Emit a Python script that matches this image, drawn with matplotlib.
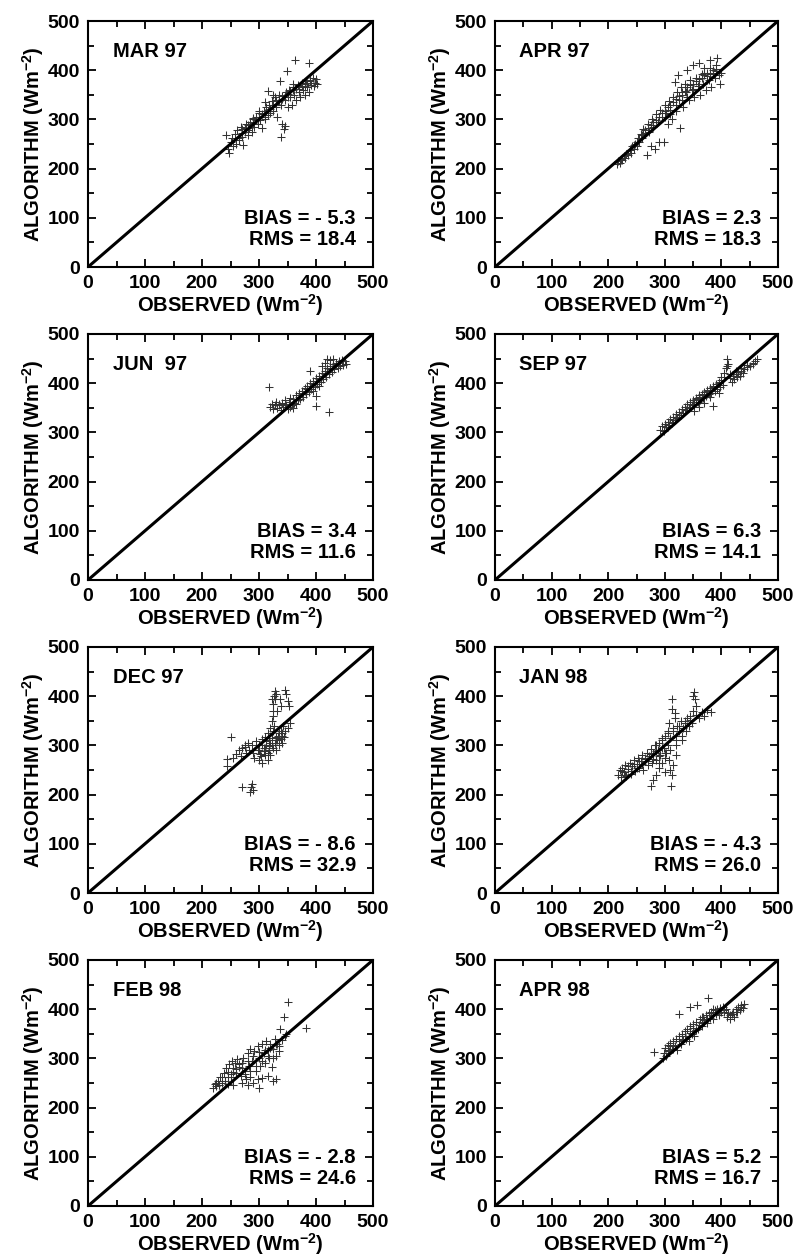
import matplotlib
matplotlib.use("Agg")
import matplotlib.pyplot as plt
from matplotlib.ticker import MultipleLocator

plt.rcParams['font.family'] = ['Liberation Sans', 'DejaVu Sans']
plt.rcParams['font.weight'] = 'bold'
plt.rcParams['mathtext.fontset'] = 'custom'
plt.rcParams['mathtext.rm'] = 'Liberation Sans:bold'
plt.rcParams['mathtext.bf'] = 'Liberation Sans:bold'
plt.rcParams['mathtext.default'] = 'bf'

# panel names and statistics
months = ["MAR 97", "APR 97", "JUN  97", "SEP 97", "DEC 97", "JAN 98", "FEB 98", "APR 98"]
bias = ["- 5.3", "2.3", "3.4", "6.3", "- 8.6", "- 4.3", "- 2.8", "5.2"]
rms = ["18.4", "18.3", "11.6", "14.1", "32.9", "26.0", "24.6", "16.7"]

# observed (x) / algorithm (y) points
mar97_obs = [242, 245, 248, 250, 252, 255, 258, 260, 262, 265, 268, 270, 272, 275, 278, 280, 282, 285, 288, 290,
             292, 295, 298, 300, 302, 305, 308, 310, 312, 315, 316, 318, 320, 322, 325, 328, 330, 332, 335, 338,
             339, 340, 343, 345, 346, 348, 349, 350, 352, 355, 358, 360, 362, 363, 365, 368, 370, 372, 375, 378,
             380, 382, 385, 387, 388, 390, 392, 395, 396, 398, 400, 401, 337, 325, 310,
             265, 270, 275, 280, 285, 290, 295, 300, 305, 310, 315, 320, 325, 330, 335, 340, 345, 350, 355, 360,
             365, 370, 375, 380, 385, 390, 270, 280, 290, 300, 310, 320, 330, 340, 350, 360, 370, 380]
mar97_alg = [268, 240, 232, 255, 262, 245, 270, 250, 278, 258, 285, 265, 248, 275, 290, 268, 282, 295, 275, 300,
             285, 305, 290, 312, 298, 282, 318, 300, 325, 308, 357, 330, 312, 338, 318, 345, 325, 305, 350, 330,
             264, 290, 280, 340, 287, 355, 399, 325, 360, 345, 330, 365, 350, 420, 340, 370, 355, 345, 375, 360,
             350, 378, 365, 414, 355, 380, 370, 385, 368, 375, 382, 372, 378, 350, 335,
             262, 272, 282, 278, 288, 292, 298, 305, 310, 312, 318, 322, 330, 332, 338, 342, 350, 352, 358, 360,
             362, 365, 368, 372, 375, 378, 280, 288, 302, 318, 305, 318, 340, 348, 345, 372, 362, 368]

apr97_obs = [215, 218, 220, 222, 225, 228, 230, 232, 235, 238, 240, 242, 245, 248, 250, 252, 255, 258, 260, 262,
             265, 268, 270, 272, 275, 278, 280, 282, 285, 288, 290, 292, 295, 298, 300, 302, 305, 308, 310, 312,
             315, 318, 320, 322, 324, 325, 327, 328, 330, 332, 335, 338, 340, 342, 345, 348, 350, 352, 355, 358,
             360, 362, 365, 368, 370, 372, 375, 378, 380, 382, 385, 388, 390, 392, 395, 398, 400,
             245, 250, 255, 260, 265, 270, 275, 280, 285, 290, 295, 300, 305, 310, 315, 320, 325, 330, 335, 340,
             345, 350, 355, 360, 365, 370, 375, 380, 385, 390, 300, 310, 320, 330, 340, 350, 360, 370, 380, 390]
apr97_alg = [210, 215, 212, 220, 218, 225, 222, 230, 228, 238, 232, 245, 240, 250, 245, 262, 255, 270, 262, 280,
             272, 228, 290, 275, 245, 300, 285, 240, 310, 295, 255, 320, 305, 255, 330, 312, 290, 338, 320, 300,
             345, 377, 330, 355, 391, 340, 282, 365, 350, 325, 372, 355, 400, 340, 380, 360, 410, 345, 385, 368,
             415, 350, 392, 372, 405, 360, 395, 380, 420, 365, 400, 385, 410, 425, 390, 371, 395,
             248, 255, 262, 268, 278, 282, 288, 295, 298, 305, 312, 318, 325, 330, 335, 342, 348, 355, 358, 365,
             370, 372, 378, 382, 385, 390, 388, 392, 395, 398, 305, 310, 318, 340, 345, 362, 372, 395, 405, 402]

jun97_obs = [320, 322, 325, 328, 330, 332, 335, 338, 340, 342, 345, 348, 350, 352, 355, 358, 360, 362, 365, 368,
             370, 372, 375, 378, 380, 382, 385, 388, 390, 392, 395, 398, 400, 402, 405, 408, 410, 412, 415, 418,
             420, 422, 425, 428, 430, 432, 435, 438, 440, 442, 445, 448, 450, 452, 420, 425, 415, 410, 430, 318,
             390, 400, 400, 423, 360, 355, 365, 395, 405,
             335, 345, 355, 365, 375, 385, 395, 405, 415, 425, 435, 445, 370, 380, 390, 400, 410, 420, 430, 440]
jun97_alg = [352, 358, 348, 355, 362, 350, 358, 345, 360, 352, 365, 356, 348, 362, 370, 355, 368, 360, 375, 365,
             380, 368, 385, 372, 390, 378, 395, 382, 400, 388, 405, 392, 410, 398, 415, 402, 420, 408, 425, 412,
             430, 418, 435, 422, 440, 428, 442, 430, 445, 435, 448, 438, 445, 440, 450, 448, 442, 435, 450, 392,
             424, 374, 354, 341, 350, 352, 358, 385, 395,
             355, 358, 362, 368, 378, 388, 398, 408, 418, 428, 438, 446, 372, 385, 395, 405, 415, 425, 435, 442]

sep97_obs = [292, 295, 298, 300, 302, 305, 308, 310, 312, 315, 318, 320, 322, 325, 328, 330, 332, 335, 338, 340,
             342, 345, 348, 350, 351, 352, 355, 358, 360, 362, 365, 368, 370, 372, 375, 378, 380, 382, 385, 386,
             388, 390, 392, 395, 398, 400, 402, 405, 408, 410, 412, 415, 418, 420, 422, 425, 428, 430, 432, 435,
             438, 440, 445, 450, 455, 460, 463, 370, 360, 380, 395,
             305, 315, 325, 335, 345, 355, 365, 375, 385, 395, 405, 415, 425, 435, 445, 455, 320, 340, 360, 380,
             400, 410]
sep97_alg = [305, 312, 302, 318, 310, 322, 315, 328, 320, 332, 325, 338, 330, 342, 335, 348, 340, 352, 345, 358,
             350, 362, 355, 365, 343, 358, 370, 362, 375, 366, 378, 370, 382, 374, 386, 378, 390, 380, 394, 354,
             384, 398, 388, 402, 392, 406, 396, 420, 430, 449, 440, 410, 402, 415, 408, 418, 412, 422, 415, 425,
             420, 428, 432, 435, 440, 445, 449, 360, 352, 372, 380,
             315, 325, 335, 345, 358, 368, 375, 385, 392, 400, 412, 418, 425, 430, 438, 442, 332, 352, 372, 390,
             412, 435]

dec97_obs = [244, 244, 250, 255, 260, 265, 268, 270, 270, 275, 276, 278, 280, 282, 285, 286, 288, 290, 288, 290,
             292, 295, 298, 300, 300, 302, 305, 305, 308, 310, 310, 312, 315, 315, 318, 318, 320, 320, 322, 322,
             324, 325, 326, 328, 330, 324, 326, 330, 330, 332, 332, 335, 335, 338, 340, 340, 342, 345, 345, 348,
             350, 352, 350, 355, 336, 338, 328, 322, 325,
             300, 305, 310, 315, 320, 325, 330, 335, 340, 303, 308, 313, 318, 323, 328, 333, 338, 343]
dec97_alg = [259, 273, 317, 275, 282, 290, 278, 295, 215, 300, 297, 285, 305, 290, 205, 215, 222, 210, 300, 285,
             275, 308, 290, 270, 300, 282, 312, 265, 295, 280, 318, 300, 270, 325, 290, 310, 335, 280, 300, 350,
             370, 385, 400, 395, 405, 360, 340, 318, 290, 370, 310, 325, 300, 330, 320, 305, 340, 330, 412, 405,
             390, 381, 335, 345, 395, 380, 410, 395, 330,
             290, 300, 295, 285, 305, 295, 310, 315, 325, 278, 288, 308, 298, 315, 305, 320, 312, 318]

jan98_obs = [218, 220, 222, 225, 228, 230, 232, 235, 238, 240, 242, 245, 248, 250, 252, 255, 258, 260, 262, 265,
             268, 270, 272, 275, 275, 278, 280, 280, 282, 285, 285, 288, 290, 290, 292, 295, 295, 298, 300, 300,
             302, 305, 305, 308, 308, 310, 311, 312, 313, 315, 315, 318, 320, 320, 322, 325, 328, 330, 332, 335,
             338, 340, 342, 345, 348, 350, 352, 354, 356, 350, 355, 360, 365, 370, 375, 381, 312, 318,
             225, 235, 245, 255, 265, 275, 285, 295, 230, 240, 250, 260, 270, 280, 290, 300, 310, 320, 330, 290,
             300, 310, 320, 285, 295, 305, 315, 325, 335, 345]
jan98_alg = [240, 250, 235, 255, 245, 260, 238, 252, 265, 242, 258, 270, 248, 262, 275, 255, 268, 280, 250, 272,
             285, 260, 278, 218, 292, 265, 230, 285, 300, 270, 240, 290, 305, 255, 280, 310, 265, 295, 320, 245,
             285, 330, 300, 270, 345, 315, 218, 240, 395, 335, 260, 355, 320, 300, 340, 330, 350, 310, 335, 345,
             330, 355, 340, 360, 345, 370, 408, 395, 380, 400, 362, 355, 368, 360, 372, 367, 375, 365,
             248, 258, 262, 268, 275, 282, 288, 295, 240, 248, 255, 262, 268, 272, 278, 285, 290, 310, 320, 265,
             275, 250, 280, 300, 315, 325, 330, 340, 350, 352]

feb98_obs = [220, 222, 225, 228, 230, 232, 235, 238, 240, 242, 245, 248, 250, 252, 255, 258, 260, 262, 265, 268,
             270, 270, 272, 275, 278, 280, 280, 282, 285, 285, 288, 290, 292, 295, 298, 298, 300, 302, 305, 305,
             308, 310, 312, 315, 315, 318, 320, 322, 325, 325, 328, 330, 332, 335, 337, 340, 344, 350, 345, 348,
             383, 330, 300, 255, 245,
             225, 235, 245, 255, 265, 230, 240, 250, 260, 270, 280, 290, 300, 310, 320, 330, 275, 285, 295, 305,
             315, 325, 335]
feb98_alg = [240, 248, 243, 255, 245, 262, 250, 270, 255, 280, 262, 288, 268, 295, 272, 290, 278, 298, 282, 265,
             290, 250, 300, 275, 258, 310, 245, 285, 320, 262, 295, 250, 315, 275, 325, 258, 300, 285, 330, 260,
             310, 290, 335, 318, 265, 300, 330, 282, 255, 320, 340, 305, 330, 315, 360, 338, 384, 415, 345, 350,
             361, 258, 240, 245, 248,
             250, 262, 272, 280, 288, 245, 255, 262, 270, 280, 295, 305, 312, 318, 322, 330, 268, 275, 285, 295,
             305, 300, 325]

apr98_obs = [281, 296, 298, 300, 302, 305, 308, 310, 312, 315, 318, 320, 322, 325, 325, 328, 330, 332, 335, 338,
             340, 342, 345, 345, 348, 350, 352, 355, 357, 358, 360, 362, 365, 368, 370, 372, 375, 377, 378, 380,
             382, 385, 388, 390, 392, 395, 398, 400, 402, 405, 408, 410, 412, 415, 418, 420, 422, 425, 428, 430,
             432, 435, 438, 440, 315, 330, 350, 365, 385,
             305, 315, 325, 335, 345, 355, 365, 375, 385, 395, 405, 415, 425, 435, 310, 330, 350, 370, 390]
apr98_alg = [314, 300, 310, 322, 305, 328, 315, 332, 320, 335, 325, 340, 318, 345, 390, 330, 350, 338, 355, 340,
             360, 335, 365, 404, 350, 370, 345, 375, 408, 360, 368, 380, 372, 385, 375, 388, 380, 423, 392, 383,
             395, 388, 398, 390, 400, 392, 402, 395, 405, 398, 400, 385, 392, 380, 390, 395, 385, 400, 395, 405,
             398, 408, 402, 410, 320, 345, 355, 385, 400,
             318, 328, 335, 345, 352, 358, 365, 372, 380, 388, 395, 388, 395, 405, 325, 340, 362, 378, 395]

obs = [mar97_obs, apr97_obs, jun97_obs, sep97_obs, dec97_obs, jan98_obs, feb98_obs, apr98_obs]
alg = [mar97_alg, apr97_alg, jun97_alg, sep97_alg, dec97_alg, jan98_alg, feb98_alg, apr98_alg]

W, H = 799, 1259
fig = plt.figure(figsize=(W / 100, H / 100), dpi=100)

col_left = [88, 495]
col_width = [285, 283]
row_top = [21, 334, 647, 960]
ax_h = 246
fs = 14.5

for i in range(8):
    r, c = divmod(i, 2)
    rect = [col_left[c] / W, 1 - (row_top[r] + ax_h) / H, col_width[c] / W, ax_h / H]
    ax = fig.add_axes(rect)
    ax.scatter(obs[i], alg[i], marker='+', s=30, linewidths=0.75, color='0.2')
    ax.plot([0, 500], [0, 500], color='black', lw=2.2)
    ax.set_xlim(0, 500)
    ax.set_ylim(0, 500)
    ax.xaxis.set_major_locator(MultipleLocator(100))
    ax.yaxis.set_major_locator(MultipleLocator(100))
    ax.xaxis.set_minor_locator(MultipleLocator(50))
    ax.yaxis.set_minor_locator(MultipleLocator(50))
    ax.tick_params(which='both', direction='in', top=True, right=True, width=1.3, labelsize=14)
    ax.tick_params(axis='x', which='major', length=6, pad=6)
    ax.tick_params(axis='y', which='major', length=6, pad=6)
    ax.tick_params(which='minor', length=4)
    for lab in ax.get_xticklabels() + ax.get_yticklabels():
        lab.set_fontweight('bold')
    for sp in ax.spines.values():
        sp.set_linewidth(1.5)
    ax.set_xlabel("OBSERVED (Wm$^{-2}$)", fontsize=fs, fontweight='bold', labelpad=0)
    ax.set_ylabel("ALGORITHM (Wm$^{-2}$)", fontsize=fs, fontweight='bold', labelpad=1)
    ax.text(0.086, 0.878, months[i], transform=ax.transAxes, fontsize=fs,
            fontweight='bold', va='center', ha='left')
    ax.text(0.94, 0.196, "BIAS = " + bias[i], transform=ax.transAxes, fontsize=fs,
            fontweight='bold', va='center', ha='right')
    ax.text(0.94, 0.111, "RMS = " + rms[i], transform=ax.transAxes, fontsize=fs,
            fontweight='bold', va='center', ha='right')

fig.savefig("out.png", dpi=100)
